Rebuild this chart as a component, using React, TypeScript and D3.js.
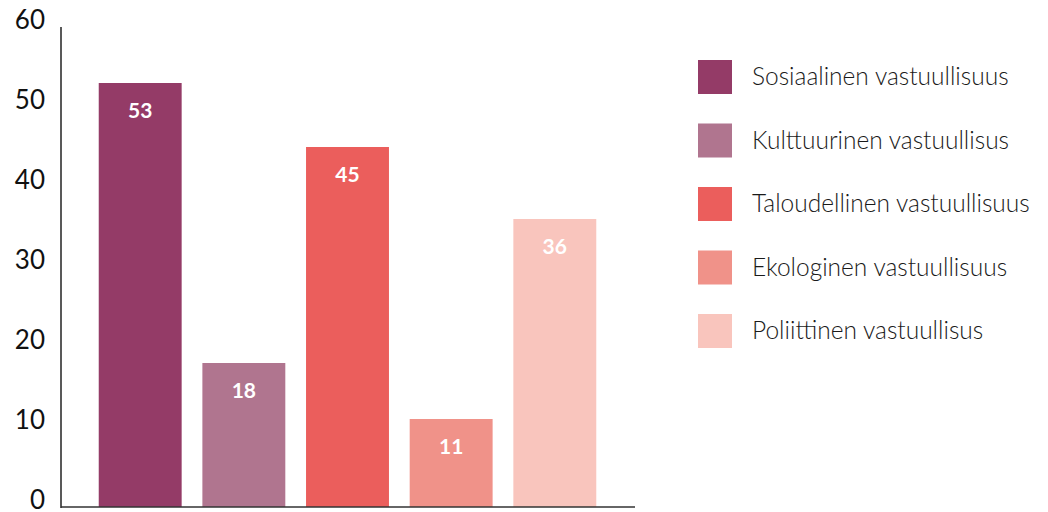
import React from "react";
import * as d3 from "d3";

const categories = [
  "Sosiaalinen vastuullisuus",
  "Kulttuurinen vastuullisus",
  "Taloudellinen vastuullisuus",
  "Ekologinen vastuullisuus",
  "Poliittinen vastuullisus",
];
const values = [53, 18, 45, 11, 36];
const colors = ["#943b67", "#b0758f", "#eb5e5c", "#f09289", "#f9c5bd"];
const yTicks = [0, 10, 20, 30, 40, 50, 60];

const W = 1048;
const H = 512;

export default function App() {
  const y = d3.scaleLinear().domain([0, 60]).range([507, 27]);
  const x = d3
    .scaleBand<string>()
    .domain(categories)
    .range([78, 617])
    .paddingInner(0.2)
    .paddingOuter(0.2);
  const font = "Lato, 'Open Sans', sans-serif";
  return (
    <svg
      width={W}
      height={H}
      style={{ position: "absolute", left: 0, top: 0 }}
      fontFamily={font}
    >
      <rect width={W} height={H} fill="#fff" />
      {yTicks.map((t) => (
        <text
          key={t}
          x={45}
          y={y(t) + 2}
          textAnchor="end"
          fontSize={26}
          fontWeight={400}
          fill="#111"
        >
          {t}
        </text>
      ))}
      {categories.map((c, i) => (
        <g key={c}>
          <rect
            x={x(c)}
            y={y(values[i])}
            width={x.bandwidth()}
            height={y(0) - y(values[i])}
            fill={colors[i]}
          />
          <text
            x={(x(c) as number) + x.bandwidth() / 2}
            y={y(values[i]) + 35}
            textAnchor="middle"
            fontSize={21}
            fontWeight={700}
            fill="#fff"
          >
            {values[i]}
          </text>
        </g>
      ))}
      <line x1={61} x2={61} y1={27} y2={508} stroke="#222" strokeWidth={1.5} />
      <line x1={61} x2={635} y1={507} y2={507} stroke="#333" strokeWidth={1.5} />
      {categories.map((c, i) => (
        <g key={"l" + c} transform={`translate(698, ${60 + i * 63.5})`}>
          <rect width={34} height={34} fill={colors[i]} />
          <text x={54} y={25} fontSize={24.5} fontWeight={300} fill="#1a1a1a">
            {c}
          </text>
        </g>
      ))}
    </svg>
  );
}
